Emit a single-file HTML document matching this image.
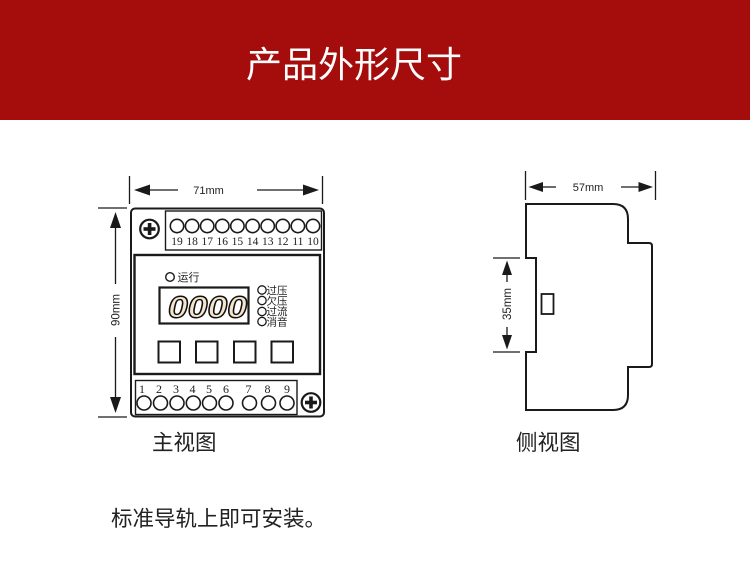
<!DOCTYPE html>
<html><head><meta charset="utf-8"><style>
html,body{margin:0;padding:0;background:#fff;}
svg{display:block;}
</style></head><body>
<svg width="750" height="562" viewBox="0 0 750 562" xmlns="http://www.w3.org/2000/svg">
<rect x="0" y="0" width="750" height="562" fill="#fff"/>
<rect x="0" y="0" width="750" height="120" fill="#a50c0c"/>
<text x="354" y="77" text-anchor="middle" font-family="Liberation Sans, Noto Sans CJK SC, sans-serif" font-size="36" fill="#fff">产品外形尺寸</text>

<!-- FRONT VIEW dims -->
<g stroke="#1a1a1a" stroke-width="1.3" fill="none">
  <line x1="129.5" y1="176" x2="129.5" y2="204"/>
  <line x1="322.5" y1="176" x2="322.5" y2="204"/>
  <line x1="148" y1="190" x2="178" y2="190"/>
  <line x1="257" y1="190" x2="306" y2="190"/>
  <line x1="98" y1="208" x2="127" y2="208"/>
  <line x1="98" y1="417" x2="127" y2="417"/>
  <line x1="115.5" y1="225" x2="115.5" y2="284"/>
  <line x1="115.5" y1="337" x2="115.5" y2="400"/>
</g>
<g fill="#1a1a1a">
  <polygon points="134,190 150,184.5 150,195.5"/>
  <polygon points="319,190 303,184.5 303,195.5"/>
  <polygon points="115.5,212 110,228 121,228"/>
  <polygon points="115.5,413 110,397 121,397"/>
</g>
<text x="208.5" y="194" text-anchor="middle" font-family="Liberation Sans, sans-serif" font-size="11" fill="#222">71mm</text>
<text transform="translate(119.5,310) rotate(-90)" text-anchor="middle" font-family="Liberation Sans, sans-serif" font-size="11.5" fill="#222">90mm</text>

<!-- FRONT body -->
<rect x="131" y="208.5" width="193" height="208" rx="4" fill="none" stroke="#1a1a1a" stroke-width="2"/>
<rect x="165.5" y="211" width="156" height="39" fill="none" stroke="#1a1a1a" stroke-width="1.4"/>
<rect x="134.5" y="255" width="185.5" height="119" fill="none" stroke="#1a1a1a" stroke-width="2.4"/>
<rect x="135.5" y="380.5" width="161.5" height="34" fill="none" stroke="#1a1a1a" stroke-width="1.4"/>

<!-- screws -->
<g>
  <circle cx="149.5" cy="229" r="9.3" fill="#fff" stroke="#1a1a1a" stroke-width="2.2"/>
  <rect x="147.8" y="223" width="3.6" height="12" fill="#1a1a1a"/>
  <rect x="143.5" y="227.2" width="12" height="3.6" fill="#1a1a1a"/>
  <circle cx="311" cy="402.5" r="9.3" fill="#fff" stroke="#1a1a1a" stroke-width="2.2"/>
  <rect x="309.2" y="396.5" width="3.6" height="12" fill="#1a1a1a"/>
  <rect x="305" y="400.7" width="12" height="3.6" fill="#1a1a1a"/>
</g>

<!-- top terminals -->
<g fill="#fff" stroke="#1a1a1a" stroke-width="1.6">
  <circle cx="177" cy="226" r="6.7"/>
  <circle cx="192.1" cy="226" r="6.7"/>
  <circle cx="207.2" cy="226" r="6.7"/>
  <circle cx="222.3" cy="226" r="6.7"/>
  <circle cx="237.4" cy="226" r="6.7"/>
  <circle cx="252.6" cy="226" r="6.7"/>
  <circle cx="267.7" cy="226" r="6.7"/>
  <circle cx="282.8" cy="226" r="6.7"/>
  <circle cx="297.9" cy="226" r="6.7"/>
  <circle cx="313" cy="226" r="6.7"/>
</g>
<g font-family="Liberation Serif, serif" font-size="11.5" fill="#222" text-anchor="middle">
  <text x="177" y="245">19</text>
  <text x="192.1" y="245">18</text>
  <text x="207.2" y="245">17</text>
  <text x="222.3" y="245">16</text>
  <text x="237.4" y="245">15</text>
  <text x="252.6" y="245">14</text>
  <text x="267.7" y="245">13</text>
  <text x="282.8" y="245">12</text>
  <text x="297.9" y="245">11</text>
  <text x="313" y="245">10</text>
</g>

<!-- bottom terminals -->
<g fill="#fff" stroke="#1a1a1a" stroke-width="1.6">
  <circle cx="144" cy="403" r="7"/>
  <circle cx="160.5" cy="403" r="7"/>
  <circle cx="177" cy="403" r="7"/>
  <circle cx="193.3" cy="403" r="7"/>
  <circle cx="209.5" cy="403" r="7"/>
  <circle cx="226" cy="403" r="7"/>
  <circle cx="249.5" cy="403" r="7"/>
  <circle cx="268.5" cy="403" r="7"/>
  <circle cx="287" cy="403" r="7"/>
</g>
<g font-family="Liberation Serif, serif" font-size="12" fill="#222" text-anchor="middle">
  <text x="142" y="393">1</text>
  <text x="159" y="393">2</text>
  <text x="176" y="393">3</text>
  <text x="192.5" y="393">4</text>
  <text x="209" y="393">5</text>
  <text x="226" y="393">6</text>
  <text x="248.5" y="393">7</text>
  <text x="267.5" y="393">8</text>
  <text x="287" y="393">9</text>
</g>

<!-- panel contents -->
<circle cx="170" cy="277" r="4.3" fill="#fff" stroke="#1a1a1a" stroke-width="1.4"/>
<text x="177.5" y="281" font-family="Liberation Sans, Noto Sans CJK SC, sans-serif" font-size="11" fill="#222">运行</text>

<rect x="159.5" y="287.5" width="89" height="36" fill="#fff" stroke="#1a1a1a" stroke-width="2.2"/>
<text x="168" y="317.5" textLength="79" lengthAdjust="spacingAndGlyphs" font-family="Liberation Sans, sans-serif" font-style="italic" font-weight="bold" font-size="31" fill="#f6e4cc" stroke="#111" stroke-width="1.4">0000</text>

<g fill="#fff" stroke="#1a1a1a" stroke-width="1.3">
  <circle cx="262" cy="290" r="4.2"/>
  <circle cx="262" cy="300.5" r="4.2"/>
  <circle cx="262" cy="311.5" r="4.2"/>
  <circle cx="262" cy="321.5" r="4.2"/>
</g>
<g font-family="Liberation Sans, Noto Sans CJK SC, sans-serif" font-size="10.5" fill="#222">
  <text x="266.5" y="294">过压</text>
  <text x="266.5" y="304.5">欠压</text>
  <text x="266.5" y="315">过流</text>
  <text x="266.5" y="325.5">消音</text>
</g>

<g fill="#fff" stroke="#1a1a1a" stroke-width="2">
  <rect x="158.5" y="341.5" width="21.5" height="21"/>
  <rect x="196" y="341.5" width="21.5" height="21"/>
  <rect x="234" y="341.5" width="21.5" height="21"/>
  <rect x="271.5" y="341.5" width="21.5" height="21"/>
</g>

<!-- SIDE VIEW -->
<g stroke="#1a1a1a" stroke-width="1.3" fill="none">
  <line x1="525.5" y1="171" x2="525.5" y2="200"/>
  <line x1="655.5" y1="171" x2="655.5" y2="200"/>
  <line x1="540" y1="187" x2="556" y2="187"/>
  <line x1="621" y1="187" x2="640" y2="187"/>
  <line x1="493" y1="258" x2="520" y2="258"/>
  <line x1="493" y1="352" x2="520" y2="352"/>
  <line x1="507" y1="272" x2="507" y2="282"/>
  <line x1="507" y1="327" x2="507" y2="338"/>
</g>
<g fill="#1a1a1a">
  <polygon points="528.5,187 543,182 543,192"/>
  <polygon points="653,187 638.5,182 638.5,192"/>
  <polygon points="507,260.5 502,275 512,275"/>
  <polygon points="507,349.5 502,335 512,335"/>
</g>
<text x="588" y="191" text-anchor="middle" font-family="Liberation Sans, sans-serif" font-size="11" fill="#222">57mm</text>
<text transform="translate(511,304) rotate(-90)" text-anchor="middle" font-family="Liberation Sans, sans-serif" font-size="11.5" fill="#222">35mm</text>

<path d="M526,204 L613,204 Q628,204 628,219 L628,243 L649,243 Q652,243 652,246 L652,364 Q652,367 649,367 L628,367 L628,395 Q628,410 613,410 L526,410 L526,352 L536,352 L536,258 L526,258 Z" fill="#fff" stroke="#1a1a1a" stroke-width="2"/>
<rect x="541.5" y="294" width="12" height="20" fill="#fff" stroke="#1a1a1a" stroke-width="1.8"/>

<!-- labels -->
<g font-family="Liberation Sans, Noto Sans CJK SC, sans-serif" font-size="21.5" fill="#222">
  <text x="152" y="450">主视图</text>
  <text x="516" y="450">侧视图</text>
  <text x="111" y="526">标准导轨上即可安装。</text>
</g>
</svg>
</body></html>
